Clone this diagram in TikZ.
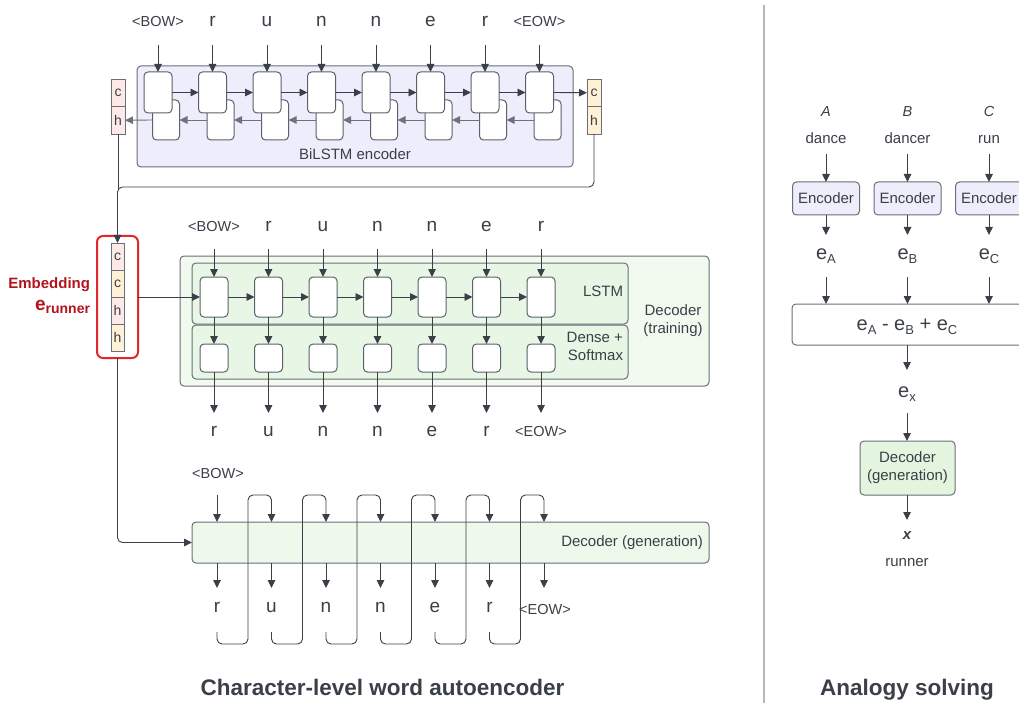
\documentclass[tikz,border=0pt]{standalone}
\usepackage{fontspec}
\setmainfont{Liberation Sans}
\usetikzlibrary{arrows.meta}
\definecolor{ink}{HTML}{3A3F48}
\definecolor{cellc}{HTML}{5C6169}
\definecolor{boxc}{HTML}{6A6F78}
\definecolor{graya}{HTML}{6E737B}
\definecolor{sepc}{HTML}{B4B8BE}
\definecolor{encfill}{HTML}{EDEDFB}
\definecolor{gouter}{HTML}{F2FAF0}
\definecolor{ginner}{HTML}{E8F6E5}
\definecolor{ggen}{HTML}{EEF9EC}
\definecolor{gdec}{HTML}{E3F5DF}
\definecolor{pinkc}{HTML}{FDE9E7}
\definecolor{yelc}{HTML}{FFF1D6}
\definecolor{redbox}{HTML}{E5262B}
\definecolor{redtxt}{HTML}{B3141C}
\newcommand\fsz[2]{\fontsize{#1}{#2}\selectfont}
\newcommand\esub[1]{e\raisebox{-4.5pt}{\fsz{13}{13}#1}}
\tikzset{
  every node/.style={inner sep=0pt, outer sep=0pt},
  smt/.style={text=ink, font=\fsz{14.5}{17}, anchor=base},
  bgt/.style={text=ink, font=\fsz{19}{21}, anchor=base},
  lbl/.style={text=ink, font=\fsz{15}{18}},
  arr/.style={draw=ink, line width=0.9pt, -{Triangle[length=8pt,width=7.5pt]}},
  garr/.style={draw=graya, line width=0.9pt, -{Triangle[length=8pt,width=7.5pt]}},
  ln/.style={draw=ink, line width=0.9pt},
  cellbox/.style={draw=cellc, fill=white, rounded corners=4pt, line width=1pt},
  grpbox/.style={draw=boxc, rounded corners=4pt, line width=1pt},
  chbox/.style={draw=boxc, line width=0.8pt, text=ink, font=\fsz{14}{16}},
}
\begin{document}
\begin{tikzpicture}[x=1pt,y=-1pt]
\useasboundingbox (0,0) rectangle (1019,703);
\clip (0,0) rectangle (1019,703);
\fill[white] (0,0) rectangle (1019,703);

% ---------------- BiLSTM encoder ----------------
\node[grpbox, fill=encfill, minimum width=436pt, minimum height=101pt] (enc) at (355,116.5) {};
\node[lbl, anchor=base] (enclbl) at (355,160) {BiLSTM encoder};
\foreach \TX/\ST [count=\i] in {<BOW>/smt,r/bgt,u/bgt,n/bgt,n/bgt,e/bgt,r/bgt,<EOW>/smt}{
  \pgfmathsetmacro\X{158+54.5*(\i-1)}
  \node[\ST] (et\i) at (\X,27) {\TX};
  \coordinate (ei\i) at (\X,45);
  \node[cellbox, minimum width=27pt, minimum height=40pt] (eb\i) at (\X+8,120) {};
}
\foreach \i in {1,...,8}{
  \pgfmathsetmacro\X{158+54.5*(\i-1)}
  \node[cellbox, minimum width=28pt, minimum height=41pt] (ef\i) at (\X,92.5) {};
  \draw[arr] (ei\i) -- (ef\i.north);
}
\foreach \i [evaluate=\i as \j using int(\i+1)] in {1,...,7}{
  \draw[arr] (ef\i.east) -- (ef\j.west);
  \draw[garr] (eb\j.west) -- (eb\i.east);
}
\node[chbox, fill=pinkc, minimum width=14pt, minimum height=27.5pt] (lcb) at (118,92.75) {c};
\node[chbox, fill=pinkc, minimum width=14pt, minimum height=27.5pt] (lhb) at (118,120.25) {h};
\node[chbox, fill=yelc, minimum width=14pt, minimum height=27.5pt] (rcb) at (594,92.75) {c};
\node[chbox, fill=yelc, minimum width=14pt, minimum height=27.5pt] (rhb) at (594,120.25) {h};
\draw[arr] (ef8.east) -- (rcb.west);
\draw[garr] (eb1.west) -- (lhb.east);

% ---------------- Embedding ----------------
\node[draw=redbox, line width=2pt, rounded corners=6pt, minimum width=41pt, minimum height=122pt] (emb) at (117.5,297) {};
\node[chbox, fill=pinkc, minimum width=13pt, minimum height=27pt] (e1) at (117.5,256.5) {c};
\node[chbox, fill=yelc, minimum width=13pt, minimum height=27pt] (e2) at (117.5,283.5) {c};
\node[chbox, fill=pinkc, minimum width=13pt, minimum height=27pt] (e3) at (117.5,310.5) {h};
\node[chbox, fill=yelc, minimum width=13pt, minimum height=27pt] (e4) at (117.5,337.5) {h};
\node[anchor=base east, text=redtxt, font=\bfseries\fsz{15}{18}] (embl) at (90,288) {Embedding};
\node[anchor=base east, text=redtxt, font=\bfseries\fsz{19}{20}] (embe) at (90,310) {e\raisebox{-3pt}{\fsz{14}{14}runner}};
\draw[ln] (lhb.south) -- (118,190);
\draw[arr, rounded corners=5pt] (rhb.south) -- (594,187) -- (117.5,187) -- (e1.north);

% ---------------- Decoder (training) ----------------
\node[grpbox, fill=gouter, minimum width=529pt, minimum height=130pt] (dt) at (444.5,321) {};
\node[grpbox, fill=ginner, minimum width=436pt, minimum height=61pt] (lb) at (410,293.5) {};
\node[grpbox, fill=ginner, minimum width=436pt, minimum height=54pt] (db) at (410,352) {};
\node[lbl, anchor=base east] (lstml) at (623,296) {LSTM};
\node[lbl, anchor=base east] (dens1) at (623,342) {Dense +};
\node[lbl, anchor=base east] (dens2) at (623,360) {Softmax};
\node[lbl, anchor=base] (dtl1) at (673,315) {Decoder};
\node[lbl, anchor=base] (dtl2) at (673,333) {(training)};
\foreach \TX/\ST [count=\i] in {<BOW>/smt,r/bgt,u/bgt,n/bgt,n/bgt,e/bgt,r/bgt}{
  \pgfmathsetmacro\X{214+54.5*(\i-1)}
  \node[\ST] (dti\i) at (\X,232) {\TX};
  \coordinate (di\i) at (\X,249);
  \node[cellbox, minimum width=28pt, minimum height=40pt] (ls\i) at (\X,297) {};
  \node[cellbox, minimum width=28pt, minimum height=28pt] (dn\i) at (\X,358) {};
  \coordinate (do\i) at (\X,413);
  \draw[arr] (di\i) -- (ls\i.north);
  \draw[arr] (ls\i.south) -- (dn\i.north);
  \draw[arr] (dn\i.south) -- (do\i);
}
\foreach \TX/\ST [count=\i] in {r/bgt,u/bgt,n/bgt,n/bgt,e/bgt,r/bgt,<EOW>/smt}{
  \pgfmathsetmacro\X{214+54.5*(\i-1)}
  \node[\ST] (dto\i) at (\X,436) {\TX};
}
\foreach \i [evaluate=\i as \j using int(\i+1)] in {1,...,6}{
  \draw[arr] (ls\i.east) -- (ls\j.west);
}
\draw[arr] (emb.east) -- (ls1.west);

% ---------------- Decoder (generation) ----------------
\node[grpbox, fill=ggen, minimum width=517pt, minimum height=41pt] (gb) at (450.5,542.5) {};
\node[lbl, anchor=base east] (gbl) at (703,546) {Decoder (generation)};
\node[smt] (gbow) at (218,478) {<BOW>};
\coordinate (gi1) at (217,495);
\draw[arr] (gi1) -- (gi1 |- gb.north);
\foreach \TX/\ST [count=\i] in {r/bgt,u/bgt,n/bgt,n/bgt,e/bgt,r/bgt}{
  \pgfmathsetmacro\X{217+54.5*(\i-1)}
  \coordinate (gx\i) at (\X,588);
  \node[\ST] (go\i) at (\X,612) {\TX};
  \coordinate (gl\i) at (\X,632);
}
\coordinate (gx7) at (544,588);
\node[smt] (go7) at (545,614) {<EOW>};
\foreach \i in {1,...,7}{
  \draw[arr] (gx\i |- gb.south) -- (gx\i);
}
\foreach \i [evaluate=\i as \j using int(\i+1)] in {1,...,6}{
  \pgfmathsetmacro\X{217+54.5*(\i-1)}
  \pgfmathsetmacro\M{\X+31}
  \pgfmathsetmacro\N{\X+54.5}
  \draw[arr, rounded corners=5pt] (gl\i) -- (\X,644) -- (\M,644) -- (\M,495) -- (\N,495) -- (gx\j |- gb.north);
}
\draw[arr, rounded corners=5pt] (emb.south) -- (117.5,542.5) -- (gb.west);

\node[text=ink, font=\bfseries\fsz{22.5}{26}, anchor=base] (t1) at (382.5,695) {Character-level word autoencoder};

% ---------------- separator ----------------
\draw[sepc, line width=1.5pt] (764,5) -- (764,703);

% ---------------- Analogy solving ----------------
\node[grpbox, fill=white, minimum width=256pt, minimum height=41pt] (sum) at (920,324.5) {};
\node[text=ink, font=\fsz{20}{22}, anchor=base] (sumt) at (907,330) {\esub{A} - \esub{B} + \esub{C}};
\foreach \AL/\WO/\SU [count=\i] in {A/dance/A,B/dancer/B,C/run/C}{
  \pgfmathsetmacro\X{826+81.5*(\i-1)}
  \node[text=ink, font=\itshape\fsz{14.5}{16}, anchor=base] (an\i) at (\X,117) {\AL};
  \node[lbl, anchor=base] (aw\i) at (\X,144) {\WO};
  \coordinate (ai\i) at (\X,154);
  \node[grpbox, fill=encfill, minimum width=67pt, minimum height=33pt, lbl] (ae\i) at (\X,198.5) {Encoder};
  \coordinate (ao\i) at (\X,235);
  \node[text=ink, font=\fsz{20}{22}, anchor=base] (aem\i) at (\X,259) {\esub{\SU}};
  \coordinate (as\i) at (\X,277);
  \draw[arr] (ai\i) -- (ae\i.north);
  \draw[arr] (ae\i.south) -- (ao\i);
  \draw[arr] (as\i) -- (as\i |- sum.north);
}
\coordinate (sx) at (907,370);
\draw[arr] (sx |- sum.south) -- (sx);
\node[text=ink, font=\fsz{20}{22}, anchor=base] (ex) at (907,397) {\esub{x}};
\coordinate (dxi) at (907,413);
\node[grpbox, fill=gdec, minimum width=95pt, minimum height=54pt, lbl, align=center] (dg) at (907.5,468) {Decoder\\(generation)};
\draw[arr] (dxi) -- (dxi |- dg.north);
\coordinate (dxo) at (907,520);
\draw[arr] (dxo |- dg.south) -- (dxo);
\node[text=ink, font=\bfseries\itshape\fsz{15}{18}, anchor=base] (xres) at (907,539) {x};
\node[lbl, anchor=base] (runr) at (907,566) {runner};
\node[text=ink, font=\bfseries\fsz{22.5}{26}, anchor=base] (t2) at (907,695) {Analogy solving};
\end{tikzpicture}
\end{document}
